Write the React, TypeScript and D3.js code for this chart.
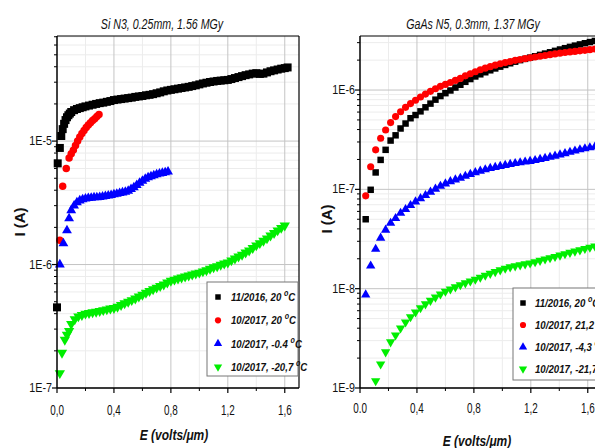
import React, { useEffect, useRef } from 'react';
import * as d3 from 'd3';

// ---- data: [E (volts/um), I (A)] ----
const siBlack: [number, number][] = [
  [0, 4.5e-7], [0.005, 6.6e-6], [0.02, 8.8e-6], [0.03, 1.1e-5], [0.04, 1.25e-5], [0.05, 1.38e-5],
  [0.06, 1.48e-5], [0.07, 1.56e-5], [0.08, 1.62e-5], [0.09, 1.67e-5], [0.1, 1.72e-5], [0.12, 1.78e-5],
  [0.14, 1.82e-5], [0.16, 1.85e-5], [0.18, 1.88e-5], [0.2, 1.91e-5], [0.225, 1.94e-5], [0.25, 1.97e-5],
  [0.275, 2.0e-5], [0.3, 2.03e-5], [0.325, 2.05e-5], [0.35, 2.08e-5], [0.375, 2.11e-5], [0.4, 2.15e-5],
  [0.425, 2.17e-5], [0.45, 2.19e-5], [0.475, 2.21e-5], [0.5, 2.23e-5], [0.525, 2.25e-5], [0.55, 2.28e-5],
  [0.575, 2.3e-5], [0.6, 2.32e-5], [0.625, 2.35e-5], [0.65, 2.37e-5], [0.675, 2.4e-5], [0.7, 2.44e-5],
  [0.725, 2.48e-5], [0.75, 2.53e-5], [0.775, 2.57e-5], [0.8, 2.6e-5], [0.825, 2.63e-5], [0.85, 2.66e-5],
  [0.875, 2.69e-5], [0.9, 2.72e-5], [0.925, 2.75e-5], [0.95, 2.79e-5], [0.975, 2.83e-5], [1.0, 2.88e-5],
  [1.025, 2.93e-5], [1.05, 2.97e-5], [1.075, 3.01e-5], [1.1, 3.04e-5], [1.125, 3.07e-5], [1.15, 3.09e-5],
  [1.175, 3.11e-5], [1.2, 3.13e-5], [1.225, 3.18e-5], [1.25, 3.24e-5], [1.275, 3.3e-5], [1.3, 3.36e-5],
  [1.325, 3.42e-5], [1.35, 3.47e-5], [1.375, 3.52e-5], [1.4, 3.55e-5], [1.425, 3.5e-5], [1.45, 3.52e-5],
  [1.475, 3.6e-5], [1.5, 3.68e-5], [1.525, 3.74e-5], [1.55, 3.8e-5], [1.575, 3.86e-5], [1.6, 3.9e-5],
  [1.62, 3.95e-5],
];
const siRed: [number, number][] = [
  [0.02, 1.57e-6], [0.04, 4.3e-6], [0.065, 6.0e-6], [0.085, 7.3e-6], [0.1, 7.9e-6], [0.115, 8.45e-6],
  [0.13, 9.2e-6], [0.145, 1.0e-5], [0.16, 1.08e-5], [0.175, 1.15e-5], [0.19, 1.22e-5], [0.205, 1.29e-5],
  [0.22, 1.35e-5], [0.235, 1.41e-5], [0.25, 1.47e-5], [0.265, 1.52e-5], [0.28, 1.58e-5], [0.295, 1.64e-5],
];
const siBlue: [number, number][] = [
  [0.02, 1.0e-6], [0.045, 1.48e-6], [0.07, 1.89e-6], [0.085, 2.36e-6], [0.1, 2.75e-6], [0.12, 3.0e-6],
  [0.14, 3.18e-6], [0.16, 3.3e-6], [0.18, 3.37e-6], [0.2, 3.42e-6], [0.22, 3.45e-6], [0.24, 3.47e-6],
  [0.26, 3.49e-6], [0.28, 3.5e-6], [0.3, 3.52e-6], [0.32, 3.55e-6], [0.34, 3.58e-6], [0.36, 3.61e-6],
  [0.38, 3.64e-6], [0.4, 3.7e-6], [0.42, 3.74e-6], [0.44, 3.78e-6], [0.46, 3.83e-6], [0.48, 3.88e-6],
  [0.5, 3.95e-6], [0.52, 4.08e-6], [0.54, 4.22e-6], [0.56, 4.4e-6], [0.58, 4.58e-6], [0.6, 4.76e-6],
  [0.62, 4.93e-6], [0.64, 5.07e-6], [0.66, 5.18e-6], [0.68, 5.28e-6], [0.7, 5.36e-6], [0.72, 5.44e-6],
  [0.74, 5.51e-6], [0.76, 5.58e-6], [0.78, 5.65e-6],
];
const siGreen: [number, number][] = [
  [0.02, 1.32e-7], [0.035, 1.93e-7], [0.055, 2.46e-7], [0.07, 2.7e-7], [0.085, 2.9e-7], [0.1, 3.3e-7],
  [0.125, 3.6e-7], [0.15, 3.8e-7], [0.175, 3.9e-7], [0.2, 4.0e-7], [0.225, 4.05e-7], [0.25, 4.1e-7],
  [0.275, 4.15e-7], [0.3, 4.2e-7], [0.325, 4.27e-7], [0.35, 4.33e-7], [0.375, 4.4e-7], [0.4, 4.45e-7],
  [0.425, 4.55e-7], [0.45, 4.7e-7], [0.475, 4.85e-7], [0.5, 5.0e-7], [0.525, 5.15e-7], [0.55, 5.3e-7],
  [0.575, 5.5e-7], [0.6, 5.7e-7], [0.625, 5.9e-7], [0.65, 6.1e-7], [0.675, 6.3e-7], [0.7, 6.5e-7],
  [0.725, 6.7e-7], [0.75, 6.9e-7], [0.775, 7.15e-7], [0.8, 7.4e-7], [0.825, 7.55e-7], [0.85, 7.7e-7],
  [0.875, 7.85e-7], [0.9, 8.0e-7], [0.925, 8.15e-7], [0.95, 8.3e-7], [0.975, 8.45e-7], [1.0, 8.6e-7],
  [1.025, 8.8e-7], [1.05, 9.0e-7], [1.075, 9.25e-7], [1.1, 9.5e-7], [1.125, 9.7e-7], [1.15, 9.95e-7],
  [1.175, 1.02e-6], [1.2, 1.04e-6], [1.225, 1.08e-6], [1.25, 1.12e-6], [1.275, 1.16e-6], [1.3, 1.2e-6],
  [1.325, 1.25e-6], [1.35, 1.3e-6], [1.375, 1.36e-6], [1.4, 1.43e-6], [1.425, 1.49e-6], [1.45, 1.56e-6],
  [1.475, 1.63e-6], [1.5, 1.72e-6], [1.525, 1.8e-6], [1.55, 1.89e-6], [1.575, 1.98e-6], [1.6, 2.07e-6],
];

const gaBlack: [number, number][] = [
  [0.04, 5.0e-8], [0.075, 9.9e-8], [0.11, 1.48e-7], [0.145, 1.98e-7], [0.18, 2.5e-7], [0.215, 3.1e-7],
  [0.25, 3.5e-7], [0.285, 4.1e-7], [0.32, 4.6e-7], [0.355, 5.2e-7], [0.39, 5.6e-7], [0.425, 6.1e-7],
  [0.46, 6.7e-7], [0.495, 7.3e-7], [0.53, 8.0e-7], [0.565, 8.7e-7], [0.6, 9.3e-7], [0.635, 9.9e-7],
  [0.67, 1.06e-6], [0.705, 1.13e-6], [0.74, 1.21e-6], [0.775, 1.29e-6], [0.81, 1.37e-6], [0.845, 1.44e-6],
  [0.88, 1.51e-6], [0.915, 1.58e-6], [0.95, 1.65e-6], [0.985, 1.72e-6], [1.02, 1.79e-6], [1.055, 1.86e-6],
  [1.09, 1.93e-6], [1.125, 2.0e-6], [1.16, 2.06e-6], [1.195, 2.12e-6], [1.23, 2.19e-6], [1.265, 2.26e-6],
  [1.3, 2.33e-6], [1.335, 2.4e-6], [1.37, 2.48e-6], [1.405, 2.56e-6], [1.44, 2.64e-6], [1.475, 2.72e-6],
  [1.51, 2.8e-6], [1.545, 2.88e-6], [1.58, 2.96e-6], [1.615, 3.04e-6], [1.65, 3.12e-6], [1.685, 3.2e-6],
];
const gaRed: [number, number][] = [
  [0.04, 8.6e-8], [0.075, 1.69e-7], [0.11, 2.5e-7], [0.145, 3.27e-7], [0.18, 3.96e-7], [0.215, 4.7e-7],
  [0.25, 5.4e-7], [0.285, 6.05e-7], [0.32, 6.7e-7], [0.355, 7.3e-7], [0.39, 7.9e-7], [0.425, 8.5e-7],
  [0.46, 9.1e-7], [0.495, 9.7e-7], [0.53, 1.03e-6], [0.565, 1.09e-6], [0.6, 1.14e-6], [0.635, 1.19e-6],
  [0.67, 1.25e-6], [0.705, 1.31e-6], [0.74, 1.39e-6], [0.775, 1.46e-6], [0.81, 1.53e-6], [0.845, 1.6e-6],
  [0.88, 1.66e-6], [0.915, 1.72e-6], [0.95, 1.78e-6], [0.985, 1.84e-6], [1.02, 1.89e-6], [1.055, 1.94e-6],
  [1.09, 1.99e-6], [1.125, 2.03e-6], [1.16, 2.07e-6], [1.195, 2.11e-6], [1.23, 2.15e-6], [1.265, 2.19e-6],
  [1.3, 2.23e-6], [1.335, 2.27e-6], [1.37, 2.31e-6], [1.405, 2.35e-6], [1.44, 2.39e-6], [1.475, 2.42e-6],
  [1.51, 2.45e-6], [1.545, 2.48e-6], [1.58, 2.51e-6], [1.615, 2.55e-6], [1.65, 2.59e-6], [1.685, 2.63e-6],
];
const gaBlue: [number, number][] = [
  [0.04, 8.7e-9], [0.075, 1.7e-8], [0.11, 2.5e-8], [0.145, 3.24e-8], [0.18, 3.9e-8], [0.215, 4.57e-8],
  [0.25, 5.1e-8], [0.285, 5.76e-8], [0.32, 6.3e-8], [0.355, 6.9e-8], [0.39, 7.5e-8], [0.425, 8.1e-8],
  [0.46, 8.7e-8], [0.495, 9.4e-8], [0.53, 1.01e-7], [0.565, 1.08e-7], [0.6, 1.14e-7], [0.635, 1.2e-7],
  [0.67, 1.25e-7], [0.705, 1.3e-7], [0.74, 1.36e-7], [0.775, 1.42e-7], [0.81, 1.48e-7], [0.845, 1.53e-7],
  [0.88, 1.58e-7], [0.915, 1.63e-7], [0.95, 1.67e-7], [0.985, 1.71e-7], [1.02, 1.75e-7], [1.055, 1.79e-7],
  [1.09, 1.83e-7], [1.125, 1.86e-7], [1.16, 1.89e-7], [1.195, 1.92e-7], [1.23, 1.96e-7], [1.265, 2.01e-7],
  [1.3, 2.06e-7], [1.335, 2.11e-7], [1.37, 2.17e-7], [1.405, 2.23e-7], [1.44, 2.3e-7], [1.475, 2.37e-7],
  [1.51, 2.44e-7], [1.545, 2.51e-7], [1.58, 2.57e-7], [1.615, 2.63e-7], [1.65, 2.68e-7], [1.685, 2.73e-7],
];
const gaGreen: [number, number][] = [
  [0.11, 1.18e-9], [0.145, 1.74e-9], [0.18, 2.3e-9], [0.215, 2.9e-9], [0.25, 3.4e-9], [0.285, 4.0e-9],
  [0.32, 4.6e-9], [0.355, 5.2e-9], [0.39, 5.8e-9], [0.425, 6.4e-9], [0.46, 7.0e-9], [0.495, 7.6e-9],
  [0.53, 8.2e-9], [0.565, 8.8e-9], [0.6, 9.4e-9], [0.635, 9.9e-9], [0.67, 1.04e-8], [0.705, 1.09e-8],
  [0.74, 1.14e-8], [0.775, 1.19e-8], [0.81, 1.24e-8], [0.845, 1.3e-8], [0.88, 1.36e-8], [0.915, 1.42e-8],
  [0.95, 1.48e-8], [0.985, 1.54e-8], [1.02, 1.6e-8], [1.055, 1.65e-8], [1.09, 1.69e-8], [1.125, 1.73e-8],
  [1.16, 1.77e-8], [1.195, 1.81e-8], [1.23, 1.86e-8], [1.265, 1.92e-8], [1.3, 1.98e-8], [1.335, 2.04e-8],
  [1.37, 2.1e-8], [1.405, 2.17e-8], [1.44, 2.24e-8], [1.475, 2.31e-8], [1.51, 2.38e-8], [1.545, 2.45e-8],
  [1.58, 2.53e-8], [1.615, 2.6e-8], [1.65, 2.68e-8], [1.685, 2.75e-8],
];

const siLegend = ['11/2016, 20', '10/2017, 20', '10/2017, -0.4', '10/2017, -20,7'];
const gaLegend = ['11/2016, 20', '10/2017, 21,2', '10/2017, -4,3', '10/2017, -21,7'];

const xTicks = [0, 0.4, 0.8, 1.2, 1.6];
const siXTickLabels = ['0,0', '0,4', '0,8', '1,2', '1,6'];
const gaXTickLabels = ['0.0', '0,4', '0,8', '1,2', '1,6'];
const siYTicks = [1e-7, 1e-6, 1e-5];
const siYTickLabels = ['1E-7', '1E-6', '1E-5'];
const gaYTicks = [1e-9, 1e-8, 1e-7, 1e-6];
const gaYTickLabels = ['1E-9', '1E-8', '1E-7', '1E-6'];

const colors = ['#000000', '#ff0000', '#0000ff', '#00ee00'];
const FONT = "'Liberation Sans', Arial, Helvetica, sans-serif";

function txt(g, x, y, str, o) {
  return g.append('text')
    .attr('transform', `translate(${x},${y}) rotate(${o.rotate || 0}) scale(${o.sx || 1},1)`)
    .attr('text-anchor', o.anchor || 'start')
    .style('font-family', FONT)
    .style('font-size', o.size + 'px')
    .style('font-weight', o.weight || 'normal')
    .style('font-style', o.style || 'normal')
    .attr('fill', '#111')
    .text(str);
}

function marker(i, size) {
  const types = [d3.symbolSquare, d3.symbolCircle, d3.symbolTriangle, d3.symbolTriangle];
  return d3.symbol().type(types[i]).size(size)();
}

function drawPanel(svg, p) {
  const x = d3.scaleLinear().domain([0, 1.7]).range([p.left, p.right]);
  const y = d3.scaleLog().domain(p.yDomain).range([p.bottom, p.top]);
  const g = svg.append('g');

  // minor grid
  const minorY = [];
  const d0 = Math.floor(Math.log10(p.yDomain[0]));
  const d1 = Math.ceil(Math.log10(p.yDomain[1]));
  for (let d = d0; d <= d1; d++) {
    for (let m = 2; m <= 9; m++) {
      const v = m * Math.pow(10, d);
      if (v > p.yDomain[0] && v < p.yDomain[1]) minorY.push(v);
    }
  }
  const minorX = [0.2, 0.6, 1.0, 1.4];
  g.selectAll('.mgy').data(minorY).enter().append('line')
    .attr('x1', p.left).attr('x2', p.right).attr('y1', d => y(d)).attr('y2', d => y(d))
    .attr('stroke', '#ececec').attr('stroke-width', 1);
  g.selectAll('.mgx').data(minorX).enter().append('line')
    .attr('x1', d => x(d)).attr('x2', d => x(d)).attr('y1', p.top).attr('y2', p.bottom)
    .attr('stroke', '#ececec').attr('stroke-width', 1);
  // major grid
  g.selectAll('.gy').data(p.yTicks).enter().append('line')
    .attr('x1', p.left).attr('x2', p.right).attr('y1', d => y(d)).attr('y2', d => y(d))
    .attr('stroke', '#c4c4c4').attr('stroke-width', 1);
  g.selectAll('.gx').data(xTicks.slice(1)).enter().append('line')
    .attr('x1', d => x(d)).attr('x2', d => x(d)).attr('y1', p.top).attr('y2', p.bottom)
    .attr('stroke', '#c4c4c4').attr('stroke-width', 1);

  // frame
  g.append('line').attr('x1', p.left).attr('x2', p.right).attr('y1', p.top).attr('y2', p.top)
    .attr('stroke', '#000').attr('stroke-width', 1.2);
  g.append('line').attr('x1', p.right).attr('x2', p.right).attr('y1', p.top).attr('y2', p.bottom)
    .attr('stroke', '#000').attr('stroke-width', 1.2);

  // series
  p.series.forEach((s, i) => {
    g.selectAll('.s' + i).data(s).enter().append('path')
      .attr('d', marker(i, p.sizes[i]))
      .attr('transform', d => `translate(${x(d[0])},${y(d[1])})` + (i === 3 ? ' rotate(180)' : ''))
      .attr('fill', colors[i]);
  });

  // axes
  g.append('line').attr('x1', p.left).attr('x2', p.left).attr('y1', p.top).attr('y2', p.bottom)
    .attr('stroke', '#000').attr('stroke-width', 1.5);
  g.append('line').attr('x1', p.left).attr('x2', p.right).attr('y1', p.bottom).attr('y2', p.bottom)
    .attr('stroke', '#000').attr('stroke-width', 1.5);
  g.selectAll('.ty').data(p.yTicks).enter().append('line')
    .attr('x1', p.left - 5).attr('x2', p.left).attr('y1', d => y(d)).attr('y2', d => y(d))
    .attr('stroke', '#000').attr('stroke-width', 1.2);
  g.selectAll('.mty').data(minorY).enter().append('line')
    .attr('x1', p.left - 3).attr('x2', p.left).attr('y1', d => y(d)).attr('y2', d => y(d))
    .attr('stroke', '#000').attr('stroke-width', 1);
  g.selectAll('.tx').data(xTicks).enter().append('line')
    .attr('x1', d => x(d)).attr('x2', d => x(d)).attr('y1', p.bottom).attr('y2', p.bottom + 5)
    .attr('stroke', '#000').attr('stroke-width', 1.2);
  g.selectAll('.mtx').data(minorX).enter().append('line')
    .attr('x1', d => x(d)).attr('x2', d => x(d)).attr('y1', p.bottom).attr('y2', p.bottom + 3)
    .attr('stroke', '#000').attr('stroke-width', 1);

  p.yTicks.forEach((t, i) => {
    txt(g, p.left - 5, y(t) + 4, p.yTickLabels[i], { size: 12.5, sx: 0.86, anchor: 'end' });
  });
  xTicks.forEach((t, i) => {
    txt(g, x(t), p.xLabelY, p.xTickLabels[i], { size: 15, sx: 0.66, anchor: 'middle' });
  });

  txt(g, p.titleX, 29, p.title, { size: 14, sx: 0.76, anchor: 'middle', style: 'italic' });
  txt(g, p.yTitleX, p.yTitleY, 'I (A)', { size: 15, anchor: 'middle', weight: 'bold', rotate: -90 });
  txt(g, p.xTitleX, p.xTitleY, 'E (volts/\u03bcm)', { size: 15, sx: 0.8, anchor: 'middle', weight: 'bold', style: 'italic' });

  // legend
  const L = p.legendBox;
  g.append('rect').attr('x', L.x).attr('y', L.y).attr('width', L.w).attr('height', L.h)
    .attr('fill', '#fff').attr('stroke', '#777').attr('stroke-width', 1);
  p.legend.forEach((lab, i) => {
    const ly = L.firstY + i * L.step;
    g.append('path').attr('d', marker(i, 30))
      .attr('transform', `translate(${L.symX},${ly})` + (i === 3 ? ' rotate(180)' : ''))
      .attr('fill', colors[i]);
    const t = txt(g, L.textX, ly + 4, '', { size: 11.5, sx: 0.84, weight: 'bold', style: 'italic' });
    t.append('tspan').text(lab + ' ');
    t.append('tspan').attr('dy', -5).style('font-size', '8.5px').text('o');
    t.append('tspan').attr('dy', 5).text('C');
  });
}

export default function App() {
  const ref = useRef(null);

  useEffect(() => {
    const svg = d3.select(ref.current);
    svg.selectAll('*').remove();
    svg.append('rect').attr('width', 595).attr('height', 448).attr('fill', '#fff');

    drawPanel(svg, {
      left: 57, right: 299, top: 36, bottom: 388, yDomain: [1e-7, 7.1e-5],
      yTicks: siYTicks, yTickLabels: siYTickLabels, xTickLabels: siXTickLabels, xLabelY: 415,
      series: [siBlack, siRed, siBlue, siGreen], sizes: [64, 44, 42, 46],
      title: 'Si N3, 0.25mm, 1.56 MGy', titleX: 162,
      yTitleX: 25, yTitleY: 222, xTitleX: 174, xTitleY: 440,
      legend: siLegend,
      legendBox: { x: 207, y: 282, w: 91, h: 94, firstY: 297, step: 23.3, symX: 218, textX: 231 },
    });
    drawPanel(svg, {
      left: 360, right: 602, top: 36, bottom: 388, yDomain: [1e-9, 3.5e-6],
      yTicks: gaYTicks, yTickLabels: gaYTickLabels, xTickLabels: gaXTickLabels, xLabelY: 413,
      series: [gaBlack, gaRed, gaBlue, gaGreen], sizes: [42, 40, 38, 38],
      title: 'GaAs N5, 0.3mm, 1.37 MGy', titleX: 473,
      yTitleX: 332, yTitleY: 219, xTitleX: 477, xTitleY: 446,
      legend: gaLegend,
      legendBox: { x: 513, y: 288, w: 100, h: 92, firstY: 303, step: 22, symX: 523, textX: 535 },
    });
  }, []);

  return (
    <svg ref={ref} width={595} height={448}
      style={{ position: 'absolute', left: 0, top: 0, overflow: 'hidden' }} />
  );
}
